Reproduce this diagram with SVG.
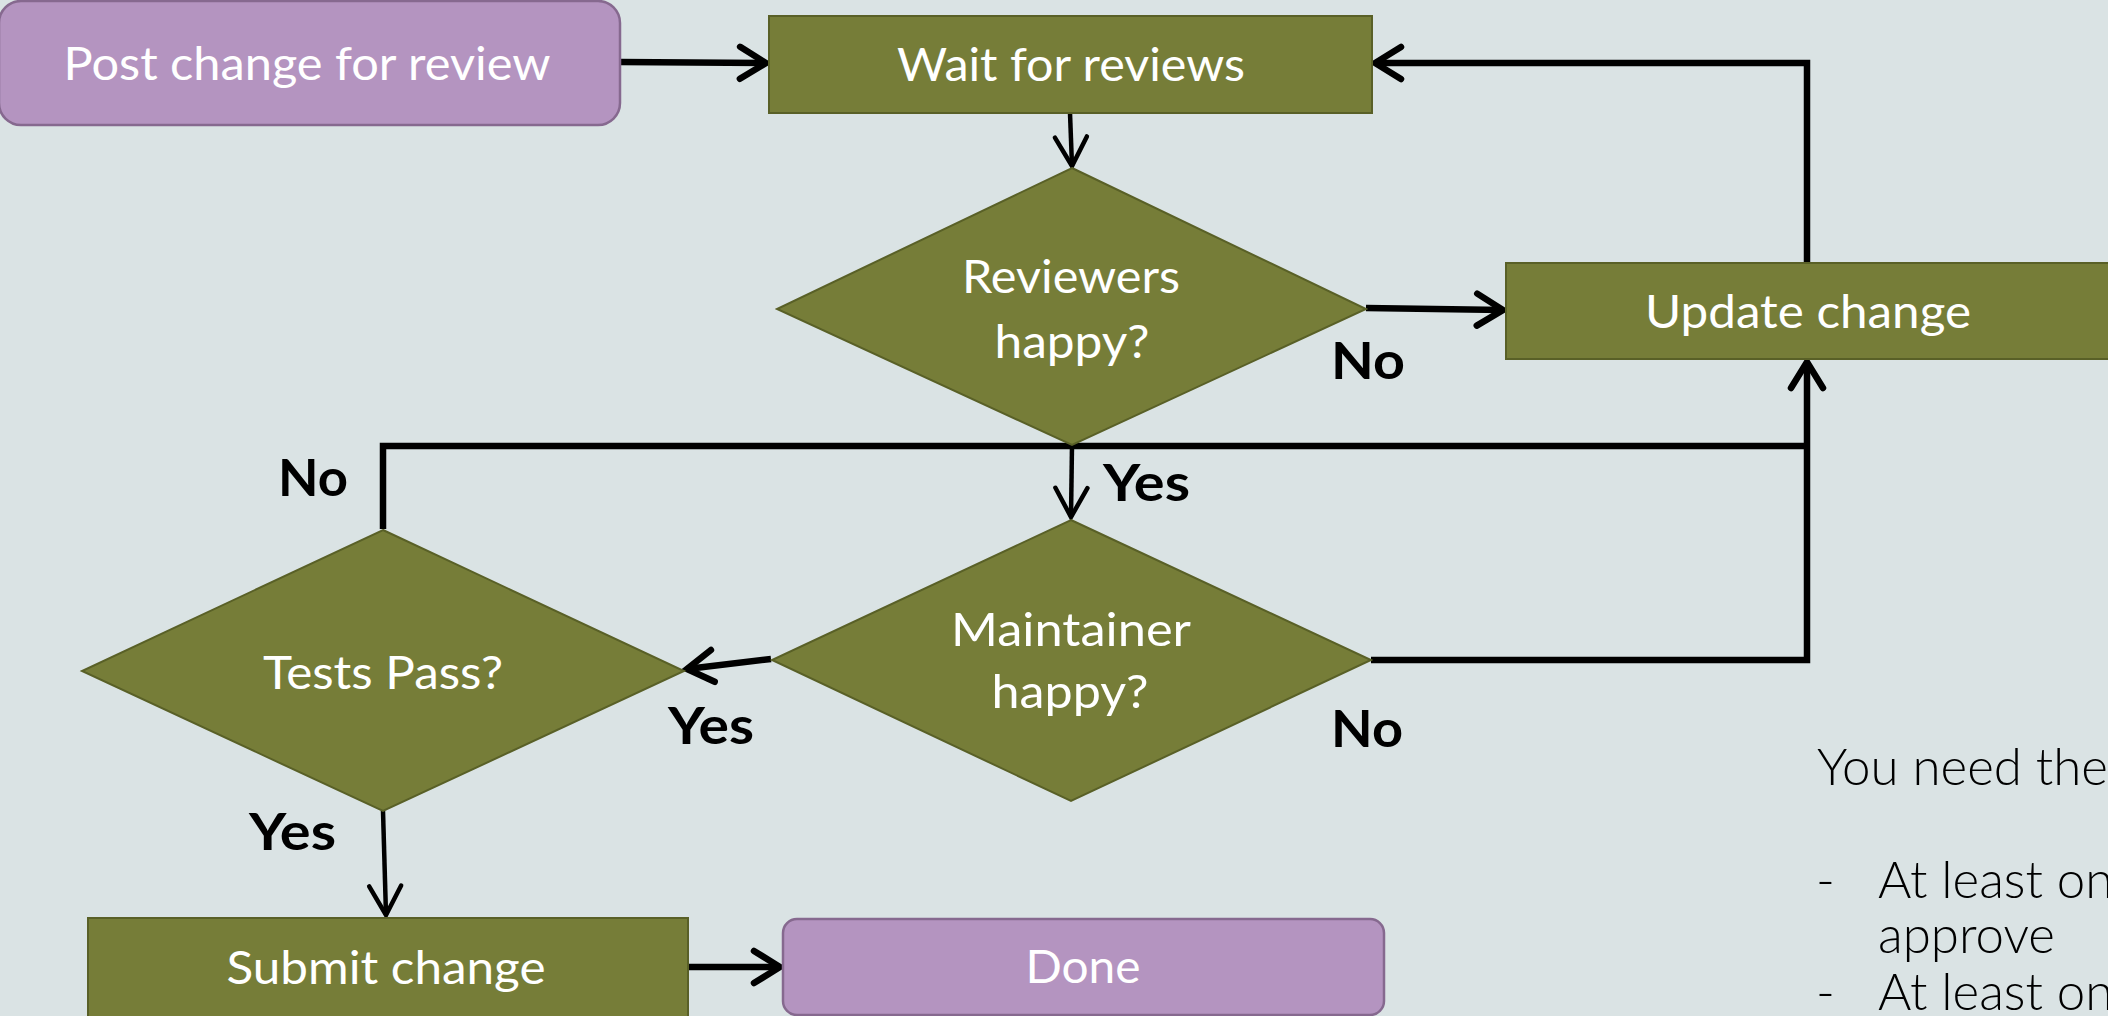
<svg xmlns="http://www.w3.org/2000/svg" width="2108" height="1016" viewBox="0 0 2108 1016">
<style>
.bg{fill:#dae3e4}
.g{fill:#767d38;stroke:#596027;stroke-width:2}
.p{fill:#b494c0;stroke:#86698f;stroke-width:2.5}
.t{font-family:Lato,"Liberation Sans",sans-serif;font-size:46px;fill:#ffffff;text-anchor:middle}
.b{font-family:Lato,"Liberation Sans",sans-serif;font-size:52px;font-weight:bold;fill:#000000}
.n{font-family:Lato,"Open Sans",sans-serif;font-size:51px;font-weight:300;fill:#000000}
.c{fill:none;stroke:#000000;stroke-width:6.5;stroke-linejoin:miter}
.c2{fill:none;stroke:#000000;stroke-width:4.5}
</style>
<defs>
<marker id="ah" markerUnits="userSpaceOnUse" viewBox="0 0 40 40" markerWidth="40" markerHeight="40" refX="34" refY="20" orient="auto">
<path d="M8,4 L34,20 L8,36" fill="none" stroke="#000" stroke-width="6.5" stroke-linecap="round" stroke-linejoin="miter"/>
</marker>
<marker id="ah2" markerUnits="userSpaceOnUse" viewBox="0 0 40 40" markerWidth="40" markerHeight="40" refX="35" refY="20" orient="auto">
<path d="M6,4 L35,20 L6,36" fill="none" stroke="#000" stroke-width="4.5" stroke-linecap="round"/>
</marker>
</defs>
<rect class="bg" x="0" y="0" width="2108" height="1016"/>

<g id="connectors">
<path class="c" d="M620,62 L766,63" marker-end="url(#ah)"/>
<path class="c2" d="M1070,113 L1072,166" marker-end="url(#ah2)"/>
<path class="c" d="M1366,308 L1503,310" marker-end="url(#ah)"/>
<path class="c" d="M1807,263 L1807,63 L1375,63" marker-end="url(#ah)"/>
<path class="c2" d="M1072,445 L1071,517" marker-end="url(#ah2)"/>
<path class="c" d="M771,659 L687,669" marker-end="url(#ah)"/>
<path class="c" d="M1371,660 L1807,660 L1807,362" marker-end="url(#ah)"/>
<path class="c" d="M383,529 L383,446 L1807,446"/>
<path class="c2" d="M383,811 L386,915" marker-end="url(#ah2)"/>
<path class="c" d="M688,967 L780,967" marker-end="url(#ah)"/>
</g>

<g id="post">
<rect class="p" x="-1" y="1" width="621" height="124" rx="22"/>
<text class="t" x="307" y="80" textLength="487" lengthAdjust="spacingAndGlyphs">Post change for review</text>
</g>
<g id="wait">
<rect class="g" x="769" y="16" width="603" height="97"/>
<text class="t" x="1071" y="81" textLength="348" lengthAdjust="spacingAndGlyphs">Wait for reviews</text>
</g>
<g id="reviewers">
<polygon class="g" points="1072,168 1366,309 1072,445 777,309"/>
<text class="t" x="1071" y="293" textLength="218" lengthAdjust="spacingAndGlyphs">Reviewers</text>
<text class="t" x="1072" y="358" textLength="155" lengthAdjust="spacingAndGlyphs">happy?</text>
</g>
<g id="update">
<rect class="g" x="1506" y="263" width="606" height="96"/>
<text class="t" x="1808" y="328" textLength="326" lengthAdjust="spacingAndGlyphs">Update change</text>
</g>
<g id="maintainer">
<polygon class="g" points="1071,520 1371,660 1071,801 772,660"/>
<text class="t" x="1071" y="646" textLength="240" lengthAdjust="spacingAndGlyphs">Maintainer</text>
<text class="t" x="1070" y="708" textLength="157" lengthAdjust="spacingAndGlyphs">happy?</text>
</g>
<g id="tests">
<polygon class="g" points="383,530 684,671 383,811 82,671"/>
<text class="t" x="383" y="689" textLength="240" lengthAdjust="spacingAndGlyphs">Tests Pass?</text>
</g>
<g id="submit">
<rect class="g" x="88" y="918" width="600" height="100"/>
<text class="t" x="386" y="984" textLength="319" lengthAdjust="spacingAndGlyphs">Submit change</text>
</g>
<g id="done">
<rect class="p" x="783" y="919" width="601" height="96" rx="14"/>
<text class="t" x="1083" y="983" textLength="115" lengthAdjust="spacingAndGlyphs">Done</text>
</g>

<g id="labels">
<text class="b" x="1331" y="379" textLength="74" lengthAdjust="spacingAndGlyphs">No</text>
<text class="b" x="278" y="496" textLength="70" lengthAdjust="spacingAndGlyphs">No</text>
<text class="b" x="1103" y="501" textLength="87" lengthAdjust="spacingAndGlyphs">Yes</text>
<text class="b" x="668" y="744" textLength="86" lengthAdjust="spacingAndGlyphs">Yes</text>
<text class="b" x="1331" y="747" textLength="72" lengthAdjust="spacingAndGlyphs">No</text>
<text class="b" x="249" y="850" textLength="87" lengthAdjust="spacingAndGlyphs">Yes</text>
</g>

<g id="note">
<text class="n" x="1817" y="785" textLength="291" lengthAdjust="spacingAndGlyphs">You need the</text>
<text class="n" x="1816" y="898">-</text>
<text class="n" x="1878" y="898">At least on</text>
<text class="n" x="1878" y="953">approve</text>
<text class="n" x="1816" y="1010">-</text>
<text class="n" x="1878" y="1010">At least on</text>
</g>
</svg>
